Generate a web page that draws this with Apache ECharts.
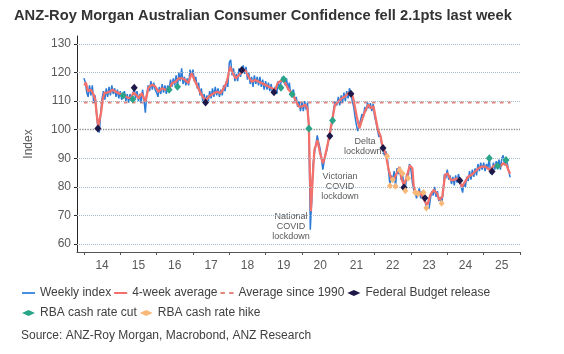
<!DOCTYPE html>
<html>
<head>
<meta charset="utf-8">
<script src="https://cdn.jsdelivr.net/npm/echarts@6/dist/echarts.min.js"></script>
<style>
  html, body { margin: 0; padding: 0; background: #fff; }
  #main { width: 564px; height: 354px; }
</style>
</head>
<body>
<div id="main"></div>
<script>
'use strict'

// weekly index at two-week steps from 1 Jan of each year
const weekly2014 = [118, 116.5, 113, 111.5, 115.5, 112, 115.5, 109.5, 112, 106, 100.4, 99, 105.5, 111, 113.5, 110.5, 114.5, 111.5, 115, 112, 115.5, 112.5, 114.5, 111.5, 114, 111];
const weekly2015 = [113.5, 110.5, 112, 113.5, 110, 112.5, 109.5, 112.5, 110, 110.7, 114.7, 111, 113.5, 110, 112.5, 109.5, 114, 110.5, 106, 112.5, 115.5, 113.5, 117, 114, 116.5, 114];
const weekly2016 = [113, 111.5, 115, 112.5, 116, 113, 115.5, 112.5, 115.5, 114, 117.5, 115, 118, 115.5, 119, 115, 120, 117, 121.5, 116, 118.5, 115.5, 118, 115.5, 121, 119];
const weekly2017 = [121, 117, 118.5, 114.5, 116.5, 112, 114.5, 110, 112.5, 109.5, 112, 110, 113.5, 111, 114.5, 111.5, 115, 112, 114.5, 111.5, 114, 112, 115.5, 113.5, 117, 115];
const weekly2018 = [123.5, 124.5, 119, 121.5, 117, 119.5, 117, 121.5, 118.5, 120.9, 122.5, 119.5, 122, 117.5, 120, 116, 118.5, 115, 119, 116, 118.5, 115.5, 118.5, 115, 117.5, 114];
const weekly2019 = [117, 114, 116.5, 113.5, 116, 112.5, 113.1, 115, 112.5, 117, 114.5, 114.7, 118.5, 117.7, 115.5, 118, 114, 116.5, 112.5, 112.4, 114, 110, 111.5, 108, 110, 106.5];
const weekly2020 = [109.5, 106.5, 110, 107, 109.5, 100.4, 65, 75, 88, 92, 94.5, 98, 95.5, 93.5, 90, 86, 89, 91.5, 93, 96.5, 97.8, 101, 103.2, 108, 110, 108.5];
const weekly2021 = [111.5, 108.5, 112, 109.5, 113, 110, 113.5, 111, 114.5, 112.6, 110, 108, 104.5, 101.5, 99.5, 101.5, 103.5, 105.5, 104.5, 108, 106.5, 109.5, 107.5, 109.3, 106.5, 109];
const weekly2022 = [104.5, 102.5, 100, 97.5, 98.5, 95, 93.6, 91, 92.5, 90.7, 85.5, 80.4, 84, 82.5, 85.5, 80.2, 86.5, 84.5, 85.8, 82.5, 84.7, 79.8, 78.6, 84.5, 83, 88];
const weekly2023 = [86, 81.5, 79, 78, 76, 77.6, 79.5, 76, 78.5, 78, 76.1, 72.6, 72, 72.5, 76, 78.5, 77, 80, 76.5, 78.5, 75, 76.5, 74.3, 77.5, 84.5, 83];
const weekly2024 = [86, 82.5, 84, 81, 83.5, 80.5, 84, 81.5, 84.5, 82.2, 80, 78, 81.5, 80, 83.5, 82, 85.5, 82.5, 86, 83.5, 86.5, 84, 88, 85.5, 88.5, 86];
const weekly2025 = [88.5, 85.5, 88, 86.5, 90, 84.5, 85.4, 88.5, 86, 89, 87.3, 89.5, 86, 90, 91, 87.5, 89.4, 88, 85.5, 83.3];

// 4-week average
const avg4w = [
  ['2014-01-05', 115.5], ['2014-01-20', 116.5], ['2014-02-10', 113.5], ['2014-03-10', 114], ['2014-04-05', 112.5],
  ['2014-04-25', 110.5], ['2014-05-10', 105], ['2014-05-25', 101.2], ['2014-06-08', 101.5], ['2014-06-22', 106],
  ['2014-07-08', 110.5], ['2014-07-25', 112.8], ['2014-08-20', 113], ['2014-09-20', 113.3], ['2014-10-15', 114],
  ['2014-11-15', 113.3], ['2014-12-15', 112.8],
  ['2015-01-15', 112.3], ['2015-02-15', 112], ['2015-03-15', 111.2], ['2015-04-15', 111], ['2015-05-15', 113],
  ['2015-06-10', 112.2], ['2015-07-05', 111], ['2015-08-05', 112.8], ['2015-09-10', 109.8], ['2015-10-12', 114.8],
  ['2015-11-15', 115.7], ['2015-12-15', 115.3],
  ['2016-01-20', 113.3], ['2016-02-25', 114.5], ['2016-03-28', 114], ['2016-05-01', 114], ['2016-06-05', 116.3],
  ['2016-07-10', 116.8], ['2016-08-10', 118], ['2016-09-12', 118], ['2016-10-15', 117.4], ['2016-11-15', 116.3],
  ['2016-12-18', 119.8],
  ['2017-01-15', 117.4], ['2017-02-15', 115.1], ['2017-03-18', 112.8], ['2017-04-20', 111], ['2017-05-10', 110.2],
  ['2017-06-10', 111.6], ['2017-07-30', 112.8], ['2017-09-01', 113.3], ['2017-10-05', 112.8], ['2017-11-05', 114.5],
  ['2017-12-05', 116.5],
  ['2018-01-10', 122], ['2018-02-05', 119.8], ['2018-03-05', 118], ['2018-04-05', 119], ['2018-05-08', 120.3],
  ['2018-06-10', 120.9], ['2018-07-12', 118.6], ['2018-08-15', 116.8], ['2018-09-20', 117.4], ['2018-10-25', 116.8],
  ['2018-11-25', 116.3], ['2018-12-28', 115.7],
  ['2019-01-30', 115.1], ['2019-03-05', 114.5], ['2019-04-10', 114], ['2019-05-01', 116.3], ['2019-06-15', 117.4],
  ['2019-07-18', 116.3], ['2019-08-20', 114], ['2019-09-25', 112.8], ['2019-10-28', 110.4], ['2019-11-30', 108.1],
  ['2020-01-01', 108.1], ['2020-02-05', 108.7], ['2020-02-25', 107.5], ['2020-03-10', 102], ['2020-03-22', 83.6],
  ['2020-03-31', 71.5], ['2020-04-15', 81.3], ['2020-05-05', 92.9], ['2020-06-05', 96.4], ['2020-07-01', 91.8],
  ['2020-07-30', 88.3], ['2020-08-20', 90.6], ['2020-09-25', 96.4], ['2020-10-28', 102.8], ['2020-11-28', 108.7],
  ['2021-01-01', 109.8], ['2021-02-05', 111], ['2021-03-10', 111.6], ['2021-04-12', 112.8], ['2021-05-15', 112.8],
  ['2021-06-03', 110.4], ['2021-07-05', 104.6], ['2021-08-01', 100.5], ['2021-08-30', 103.8], ['2021-09-30', 106.8],
  ['2021-11-01', 108.8], ['2021-11-25', 107.5], ['2021-12-20', 108.2],
  ['2022-01-08', 104.7], ['2022-02-03', 100], ['2022-03-01', 97.7], ['2022-03-22', 94], ['2022-04-20', 91.8],
  ['2022-05-22', 86], ['2022-06-15', 83], ['2022-07-10', 82.5], ['2022-08-15', 85], ['2022-09-08', 87],
  ['2022-10-01', 82.5], ['2022-10-22', 80.5], ['2022-11-15', 83], ['2022-12-20', 87.5],
  ['2023-01-15', 86.5], ['2023-01-28', 80.5], ['2023-02-18', 77.8], ['2023-03-22', 78.3], ['2023-04-22', 77],
  ['2023-05-22', 74.8], ['2023-06-15', 73.7], ['2023-07-15', 77.2], ['2023-08-18', 78.9], ['2023-09-20', 77.7],
  ['2023-10-12', 75.4], ['2023-11-12', 76.5], ['2023-11-28', 77], ['2023-12-10', 84.2],
  ['2024-01-05', 84.7], ['2024-02-05', 82.4], ['2024-03-08', 82.4], ['2024-04-08', 83], ['2024-05-01', 81.8],
  ['2024-05-28', 80.1], ['2024-06-28', 81.8], ['2024-07-30', 83.6], ['2024-09-02', 84.2], ['2024-10-05', 85.3],
  ['2024-11-10', 86.5], ['2024-12-12', 87.1],
  ['2025-01-20', 87.1], ['2025-03-03', 85.9], ['2025-04-05', 87.1], ['2025-05-08', 87.7], ['2025-06-14', 87.1],
  ['2025-07-16', 88.2], ['2025-08-18', 87.7], ['2025-09-12', 85.3], ['2025-09-26', 84.7]
];

const avgSince1990 = 109.5;
const avgSpan = ['2014-01-01', '2025-09-28'];

// events, placed on the weekly reading nearest the date
const budgetRelease = [
  ['2014-05-21', 100.4], ['2015-05-21', 114.7], ['2017-05-07', 109.5], ['2018-05-07', 120.9],
  ['2019-03-26', 113.1], ['2020-10-07', 97.8], ['2021-05-07', 112.6], ['2022-03-26', 93.6],
  ['2022-10-22', 79.8], ['2023-05-21', 76.1], ['2024-05-06', 82.2], ['2025-03-26', 85.4]
];
const rateCut = [
  ['2015-01-29', 112], ['2015-05-07', 110.7], ['2016-05-06', 114], ['2016-07-29', 115],
  ['2019-06-04', 114.7], ['2019-07-02', 117.7], ['2019-09-24', 112.4], ['2020-03-11', 100.4],
  ['2020-11-04', 103.2], ['2025-02-26', 90], ['2025-05-21', 87.3], ['2025-08-13', 89.4]
];
const rateHike = [
  ['2022-05-07', 90.7], ['2022-06-04', 80.4], ['2022-07-02', 82.5], ['2022-07-30', 80.2],
  ['2022-09-10', 85.8], ['2022-10-08', 84.7], ['2022-11-05', 78.6], ['2022-12-03', 83],
  ['2023-02-12', 78], ['2023-03-12', 77.6], ['2023-05-07', 78], ['2023-06-04', 72.6], ['2023-11-05', 74.3]
];

const yTicks = [60, 70, 80, 90, 100, 110, 120, 130];
const yearLabels = [2014, 2015, 2016, 2017, 2018, 2019, 2020, 2021, 2022, 2023, 2024, 2025];

const FONT = "'Liberation Sans', Arial, sans-serif";
const LINE_ICON = 'path://M0,0H13V2H0Z';
const DASH_ICON = 'path://M0,0H4V2H0Z M8,0H12V2H8Z';

// date string -> timestamp (local time, same as the weekly dates below)
function ts(s) {
  let p = s.split('-');
  return new Date(+p[0], +p[1] - 1, +p[2]).getTime();
}
function toPoints(arr) {
  return arr.map(d => [ts(d[0]), d[1]]);
}

let weeklyByYear = {
  2014: weekly2014, 2015: weekly2015, 2016: weekly2016, 2017: weekly2017,
  2018: weekly2018, 2019: weekly2019, 2020: weekly2020, 2021: weekly2021,
  2022: weekly2022, 2023: weekly2023, 2024: weekly2024, 2025: weekly2025
};
let weeklyData = [];
Object.keys(weeklyByYear).forEach(function (yr) {
  weeklyByYear[yr].forEach(function (v, i) {
    weeklyData.push([new Date(+yr, 0, 1 + 14 * i).getTime(), v]);
  });
});

let yearTicks = yearLabels.concat([2026]).map(y => new Date(y, 0, 1).getTime());
let yearMids = yearLabels.map(y => new Date(y, 6, 2).getTime());

let myChart = echarts.init(document.getElementById('main'), null, { renderer: 'canvas' });

let legendBase = {
  left: 22, padding: 0, itemWidth: 13, itemHeight: 6, itemGap: 3,
  textStyle: { fontSize: 12, color: '#404040', fontFamily: FONT }
};

myChart.setOption({
  backgroundColor: '#fff',
  animation: false,
  textStyle: { fontFamily: FONT },
  title: {
    text: 'ANZ-Roy Morgan Australian Consumer Confidence fell 2.1pts last week',
    left: 14,
    top: 8,
    padding: 0,
    textStyle: { fontSize: 14.7, fontWeight: 'bold', color: '#333', fontFamily: FONT }
  },
  grid: { left: 77, right: 44, top: 36, bottom: 102 },
  legend: [Object.assign({}, legendBase, {
    top: 287,
    data: [
      { name: 'Weekly index', icon: LINE_ICON },
      { name: '4-week average', icon: LINE_ICON },
      { name: 'Average since 1990', icon: DASH_ICON },
      { name: 'Federal Budget release' }
    ]
  }), Object.assign({}, legendBase, {
    top: 307,
    data: ['RBA cash rate cut', 'RBA cash rate hike']
  })],
  xAxis: {
    type: 'value',
    min: new Date(2013, 9, 23).getTime(),
    max: new Date(2026, 0, 1).getTime(),
    axisLine: { lineStyle: { color: '#555', width: 1 } },
    axisTick: { show: true, length: 3, customValues: yearTicks, lineStyle: { color: '#555' } },
    axisLabel: {
      customValues: yearMids,
      margin: 8,
      fontSize: 12,
      color: '#595959',
      fontFamily: FONT,
      formatter: v => String(new Date(v).getFullYear()).slice(2)
    },
    splitLine: { show: false }
  },
  yAxis: {
    type: 'value',
    min: 57.2,
    max: 132.8,
    name: 'Index',
    nameLocation: 'middle',
    nameGap: 42,
    nameTextStyle: { fontSize: 12, color: '#595959', fontFamily: FONT },
    axisLine: { show: true, lineStyle: { color: '#262626', width: 1 } },
    axisTick: { show: true, length: 3, customValues: yTicks, lineStyle: { color: '#262626' } },
    axisLabel: { customValues: yTicks, margin: 6, fontSize: 12, color: '#595959', fontFamily: FONT },
    splitLine: { show: false }
  },
  graphic: [{
    type: 'text', left: 21, top: 330,
    style: { text: 'Source: ANZ-Roy Morgan, Macrobond, ANZ Research', fill: '#404040', font: '12px ' + FONT }
  }, {
    type: 'text', x: 291, y: 212,
    style: { text: 'National\nCOVID\nlockdown', textAlign: 'center', fill: '#595959', font: '9px ' + FONT, lineHeight: 10 }
  }, {
    type: 'text', x: 340, y: 172,
    style: { text: 'Victorian\nCOVID\nlockdown', textAlign: 'center', fill: '#595959', font: '9px ' + FONT, lineHeight: 10 }
  }, {
    type: 'text', x: 365, y: 136,
    style: { text: 'Delta\nlockdowns', textAlign: 'center', fill: '#595959', font: '9px ' + FONT, lineHeight: 10.5 }
  }],
  series: [{
    name: 'grid',
    type: 'line',
    data: [],
    z: 0,
    markLine: {
      silent: true,
      symbol: 'none',
      label: { show: false },
      animation: false,
      data: yTicks.map(v => ({
        yAxis: v,
        lineStyle: v === 100
          ? { type: 'dotted', color: '#8c8c8c', width: 1.3 }
          : { type: 'dotted', color: '#a7b9c7', width: 1 }
      }))
    }
  }, {
    name: 'Weekly index',
    type: 'line',
    data: weeklyData,
    showSymbol: false,
    symbol: 'none',
    z: 2,
    lineStyle: { color: '#2b7bd8', width: 1.5 },
    itemStyle: { color: '#4a90e2' }
  }, {
    name: '4-week average',
    type: 'line',
    data: toPoints(avg4w),
    showSymbol: false,
    symbol: 'none',
    z: 3,
    lineStyle: { color: '#f4706a', width: 2.3 },
    itemStyle: { color: '#f4706a' }
  }, {
    name: 'Average since 1990',
    type: 'line',
    data: avgSpan.map(d => [ts(d), avgSince1990]),
    showSymbol: false,
    symbol: 'none',
    z: 1,
    lineStyle: { color: '#e5827b', width: 2, type: [3.5, 4.5] },
    itemStyle: { color: '#e5827b' }
  }, {
    name: 'Federal Budget release',
    type: 'scatter',
    data: toPoints(budgetRelease),
    symbol: 'diamond',
    symbolSize: [7, 8],
    z: 5,
    itemStyle: { color: '#1d1848', opacity: 1 }
  }, {
    name: 'RBA cash rate cut',
    type: 'scatter',
    data: toPoints(rateCut),
    symbol: 'diamond',
    symbolSize: [7, 8],
    z: 5,
    itemStyle: { color: '#2aa58a', opacity: 1 }
  }, {
    name: 'RBA cash rate hike',
    type: 'scatter',
    data: toPoints(rateHike),
    symbol: 'diamond',
    symbolSize: [6, 7],
    z: 5,
    itemStyle: { color: '#f8b878', opacity: 1 }
  }]
});
</script>
</body>
</html>
